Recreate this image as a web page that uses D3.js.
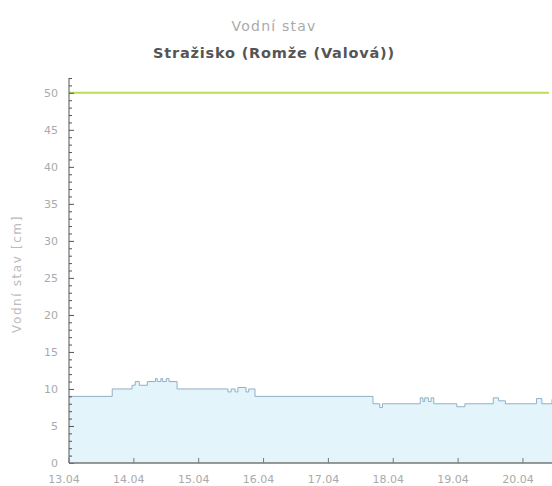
<!DOCTYPE html>
<html><head><meta charset="utf-8">
<script src="https://cdn.jsdelivr.net/npm/d3@7"></script>
<style>body{margin:0;background:#fff;}svg{display:block;font-family:"DejaVu Sans",Verdana,sans-serif;}</style>
</head><body><svg id="c" width="552" height="486"></svg>
<script>
const title = "Vodní stav";
const subtitle = "Stražisko (Romže (Valová))";
const yTitle = "Vodní stav [cm]";
const times = ["2024-04-13 00:00","2024-04-13 16:00","2024-04-13 23:20","2024-04-14 00:30","2024-04-14 02:00","2024-04-14 05:00",
 "2024-04-14 08:00","2024-04-14 08:40","2024-04-14 10:00","2024-04-14 10:40","2024-04-14 12:00","2024-04-14 13:00","2024-04-14 16:00",
 "2024-04-15 10:50","2024-04-15 12:00","2024-04-15 13:30","2024-04-15 14:30","2024-04-15 17:30","2024-04-15 18:30","2024-04-15 20:50",
 "2024-04-17 16:30","2024-04-17 19:00","2024-04-17 20:00","2024-04-18 10:00","2024-04-18 11:00","2024-04-18 11:40","2024-04-18 13:00","2024-04-18 14:00","2024-04-18 15:00",
 "2024-04-18 23:30","2024-04-19 02:30","2024-04-19 13:00","2024-04-19 15:00","2024-04-19 17:30","2024-04-20 05:00","2024-04-20 07:00","2024-04-20 10:45"];
const levels = [9,10,10.5,11,10.5,11,
 11.4,11,11.4,11,11.4,11,10,
 9.6,10,9.6,10.2,9.6,10,9,
 8,7.5,8,8.8,8.3,8.8,8.3,8.8,8,
 7.6,8,8.8,8.4,8,8.7,8,8.6];
const limitLevel = 50;
const yTicks = [0,5,10,15,20,25,30,35,40,45,50];
const xTickDates = ["2024-04-13","2024-04-14","2024-04-15","2024-04-16","2024-04-17","2024-04-18","2024-04-19","2024-04-20"];

const parse = d3.timeParse("%Y-%m-%d %H:%M");
const parseD = d3.timeParse("%Y-%m-%d");
const data = times.map((t,i)=>({t:parse(t), v:levels[i]}));
const svg = d3.select("#c");
const L=69, R=552, T=78, B=463;
const x = d3.scaleTime().domain([parseD("2024-04-13"), parse("2024-04-20 10:45")]).range([L,R]);
const y = d3.scaleLinear().domain([0,52]).range([B,T]);

svg.append("text").attr("x",274).attr("y",31).attr("text-anchor","middle").attr("fill","#aaa").attr("font-size",14).attr("letter-spacing",1.2).text(title);
svg.append("text").attr("x",274).attr("y",58).attr("text-anchor","middle").attr("fill","#555").attr("font-size",14.5).attr("letter-spacing",0.8).attr("font-weight","bold").text(subtitle);
svg.append("text").attr("transform","translate(21,274) rotate(-90)").attr("text-anchor","middle").attr("fill","#bbb").attr("font-size",12).attr("letter-spacing",1.6).text(yTitle);

// area
svg.append("path").datum(data).attr("fill","#e3f4fb")
  .attr("d", d3.area().curve(d3.curveStepAfter).x(d=>x(d.t)).y0(B).y1(d=>y(d.v)));
svg.append("path").datum(data).attr("fill","none").attr("stroke","#8fb0c8").attr("stroke-width",1)
  .attr("d", d3.line().curve(d3.curveStepAfter).x(d=>x(d.t)).y(d=>y(d.v)));

// limit line
svg.append("line").attr("x1",L).attr("x2",549).attr("y1",y(limitLevel)).attr("y2",y(limitLevel)).attr("stroke","#b8de5a").attr("stroke-width",2);

// y axis
const ya = svg.append("g").attr("transform",`translate(${L},0)`);
ya.append("line").attr("y1",T).attr("y2",B).attr("stroke","#555");
const minor = d3.range(0,53,1);
ya.selectAll(".mn").data(minor).join("line").attr("x1",0).attr("x2",d=>d%5===0?5:3).attr("y1",d=>y(d)+0.5).attr("y2",d=>y(d)+0.5).attr("stroke","#555");
ya.selectAll(".lb").data(yTicks).join("text").attr("x",-11).attr("y",d=>y(d)+4).attr("text-anchor","end").attr("fill","#aaa").attr("font-size",11).text(d=>d);

// x axis
const xa = svg.append("g").attr("transform",`translate(0,${B})`);
xa.append("line").attr("x1",L).attr("x2",R).attr("stroke","#777").attr("stroke-width",1.5);
const xt = xTickDates.map(parseD);
xa.selectAll(".t").data(xt).join("line").attr("x1",d=>x(d)).attr("x2",d=>x(d)).attr("y1",0).attr("y2",-5).attr("stroke","#777");
xa.selectAll(".l").data(xt).join("text").attr("x",d=>x(d)-5).attr("y",20).attr("text-anchor","middle").attr("fill","#aaa").attr("font-size",11).text(d3.timeFormat("%d.%m"));
</script></body></html>
